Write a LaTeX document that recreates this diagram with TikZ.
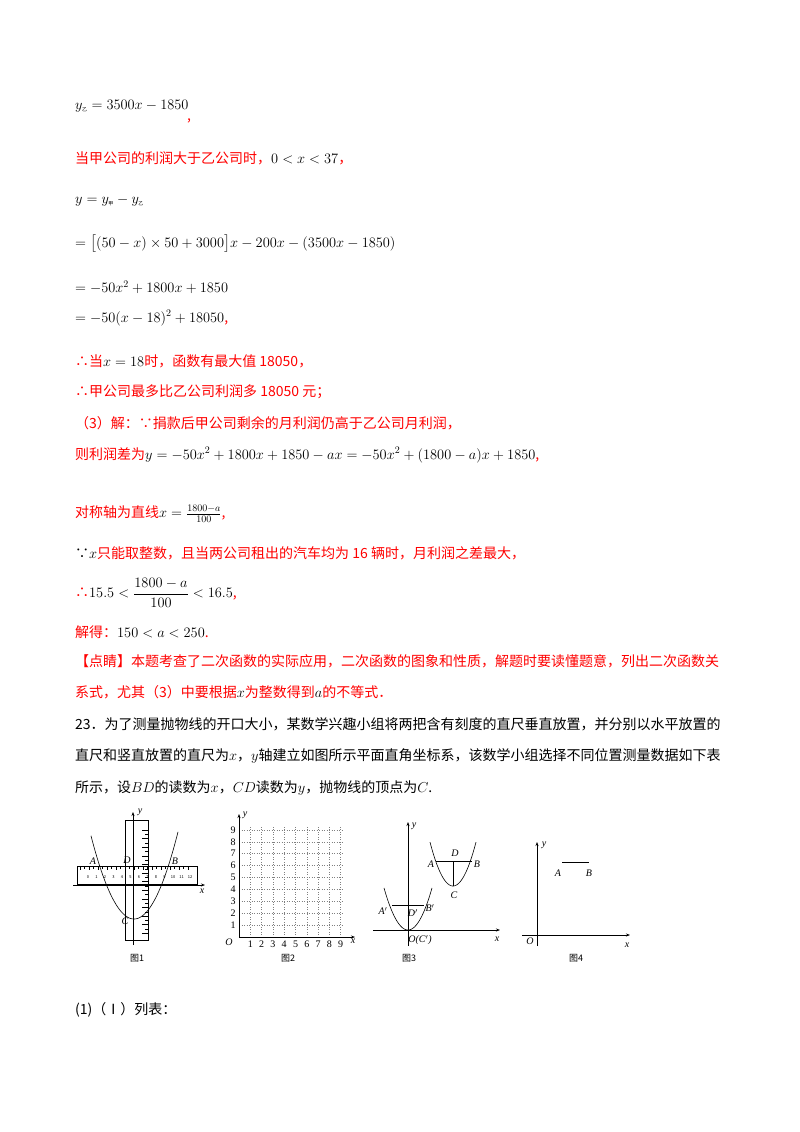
\documentclass[tikz,border=0pt]{standalone}
\usepackage{amsmath}
\usepackage{fontspec}
\setmainfont{Noto Sans CJK SC}
\newfontfamily\tms{Liberation Serif}
\usetikzlibrary{arrows.meta}
\newcommand\rd[1]{\textcolor{red}{#1}}
\begin{document}
\begin{tikzpicture}[x=1pt,y=-1pt,
  ln/.style={anchor=west,inner sep=0,font=\fontsize{14}{16}\selectfont},
  fcap/.style={inner sep=0,font=\fontsize{9}{10}\selectfont},
  lb/.style={inner sep=0,font=\tms\itshape\fontsize{10}{11}\selectfont},
  ax/.style={-{Stealth[length=4pt,width=3pt]},line width=0.6pt},
  pb/.style={line width=0.6pt}]
\useasboundingbox[fill=white] (0,0) rectangle (800,1132);
\node[ln] (l1) at (75,106) {$y_{\textrm{\tiny 乙}}=3500x-1850$};
\node[ln,red] (c1) at (187,121) {,};
\node[ln] (l2) at (75,158) {\rd{当甲公司的利润大于乙公司时，}$0<x<37$\rd{，}};
\node[ln] (l3) at (75,201) {$y=y_{\textrm{\tiny 甲}}-y_{\textrm{\tiny 乙}}$};
\node[ln] (l4) at (75,244) {$=\bigl[(50-x)\times50+3000\bigr]x-200x-(3500x-1850)$};
\node[ln] (l5) at (75,287) {$=-50x^2+1800x+1850$};
\node[ln] (l6) at (75,318) {$=-50(x-18)^2+18050$\rd{,}};
\node[ln] (l7) at (75,361) {\rd{∴当}$x=18$\rd{时，函数有最大值 18050，}};
\node[ln,red] (l8) at (75,392) {∴甲公司最多比乙公司利润多 18050 元；};
\node[ln,red] (l9) at (75,423) {（3）解：∵捐款后甲公司剩余的月利润仍高于乙公司月利润，};
\node[ln] (l10) at (75,455) {\rd{则利润差为}$y=-50x^2+1800x+1850-ax=-50x^2+(1800-a)x+1850$\rd{,}};
\node[ln] (l11) at (75,514) {\rd{对称轴为直线}$x=\frac{1800-a}{100}$\rd{,}};
\node[ln] (l12) at (75,553) {∵$x$\rd{只能取整数，且当两公司租出的汽车均为 16 辆时，月利润之差最大，}};
\node[ln] (l13) at (75,593) {\rd{∴}$15.5<\dfrac{1800-a}{100}<16.5$\rd{,}};
\node[ln] (l14) at (75,632) {\rd{解得：}$150<a<250$\rd{.}};
\node[ln,red] (l15) at (75,661) {【点睛】本题考查了二次函数的实际应用，二次函数的图象和性质，解题时要读懂题意，列出二次函数关};
\node[ln] (l16) at (75,692) {\rd{系式，尤其（3）中要根据}$x$\rd{为整数得到}$a$\rd{的不等式．}};
\node[ln] (l17) at (75,724) {23．为了测量抛物线的开口大小，某数学兴趣小组将两把含有刻度的直尺垂直放置，并分别以水平放置的};
\node[ln] (l18) at (75,756) {直尺和竖直放置的直尺为$x$，$y$轴建立如图所示平面直角坐标系，该数学小组选择不同位置测量数据如下表};
\node[ln] (l19) at (75,788) {所示，设$BD$的读数为$x$，$CD$读数为$y$，抛物线的顶点为$C$.};
\node[ln] (l20) at (75,1010) {(1)（Ⅰ）列表：};
% Fig 1
\draw[line width=0.6pt] (77,866) rectangle (197,884);
\draw[line width=0.6pt] (125,820) rectangle (148,940);
\foreach \i in {0,...,24} \draw[line width=0.4pt] (80+4.5*\i,866) -- ++(0,{mod(\i,2)==0?4:2.5});
\foreach \i in {0,...,24} \draw[line width=0.4pt] (148,830+4.3*\i) -- ++({mod(\i,2)==0?-6:-3.5},0);
\foreach \n [count=\k from 0] in {0,1,2,3,4,5,6,7,8,9,10,11,12}
  \node[fcap,font=\fontsize{4}{5}\selectfont] (t\k) at (88+8.5*\k,877) {\n};
\draw[ax,line width=0.9pt] (73,885) -- (205,885);
\draw[ax] (133,945) -- (133,812);
\draw[pb,domain=91:178,samples=60] plot (\x,{919-0.045*(\x-134)^2});
\node[lb] (f1y) at (140,812) {y};
\node[lb] (f1x) at (202,891) {x};
\node[lb] (f1A) at (93,861) {A};
\node[lb] (f1D) at (127,860) {D};
\node[lb] (f1B) at (175,861) {B};
\node[lb] (f1C) at (125,921) {C};
\node[fcap] (cap1) at (137,958) {图1};
% Fig 2
\foreach \i in {1,...,9} {
  \draw[gray,dotted,line width=0.5pt] (239+11.3*\i,937) -- (239+11.3*\i,826);
  \draw[gray,dotted,line width=0.5pt] (239,937-11.9*\i) -- (343,937-11.9*\i);
  \node[lb,font=\tms\fontsize{10}{11}\selectfont] (gx\i) at (239+11.3*\i,944) {\i};
  \node[lb,font=\tms\fontsize{10}{11}\selectfont] (gy\i) at (233,937-11.9*\i) {\i};
}
\draw[ax] (239,937) -- (355,937);
\draw[ax] (239,937) -- (239,814);
\node[lb] (f2O) at (229,942) {O};
\node[lb] (f2x) at (353,941) {x};
\node[lb] (f2y) at (245,815) {y};
\node[fcap] (cap2) at (288,958) {图2};
% Fig 3
\draw[ax] (373,930) -- (500,930);
\draw[ax] (408,946) -- (408,822);
\draw[pb,domain=384:432,samples=50] plot (\x,{930-0.073*(\x-408)^2});
\draw[pb,domain=430:476,samples=50] plot (\x,{886-0.083*(\x-453)^2});
\coordinate (A) at (436,861); \coordinate (B) at (472,861);
\coordinate (D) at (453,861); \coordinate (C) at (453,886);
\coordinate (A1) at (392,905); \coordinate (B1) at (424,905);
\draw[line width=0.5pt] (A) -- (B); \draw[line width=0.5pt] (D) -- (C);
\draw[line width=0.5pt] (A1) -- (B1);
\node[lb] (f3A) at (431,864) {A};
\node[lb] (f3D) at (455,853) {D};
\node[lb] (f3B) at (477,864) {B};
\node[lb] (f3C) at (454,895) {C};
\node[lb] (f3A1) at (383,911) {A$'$};
\node[lb] (f3D1) at (413,913) {D$'$};
\node[lb] (f3B1) at (430,908) {B$'$};
\node[lb] (f3O) at (420,940) {O(C$'$)};
\node[lb] (f3y) at (414,826) {y};
\node[lb] (f3x) at (497,939) {x};
\node[fcap] (cap3) at (409,958) {图3};
% Fig 4
\draw[ax] (522,935) -- (630,935);
\draw[ax] (537,946) -- (537,842);
\coordinate (A4) at (562,862); \coordinate (B4) at (589,862);
\draw[line width=0.6pt] (A4) -- (B4);
\node[lb] (f4A) at (558,873) {A};
\node[lb] (f4B) at (589,873) {B};
\node[lb] (f4O) at (530,941) {O};
\node[lb] (f4y) at (544,845) {y};
\node[lb] (f4x) at (627,945) {x};
\node[fcap] (cap4) at (576,958) {图4};
\end{tikzpicture}
\end{document}
